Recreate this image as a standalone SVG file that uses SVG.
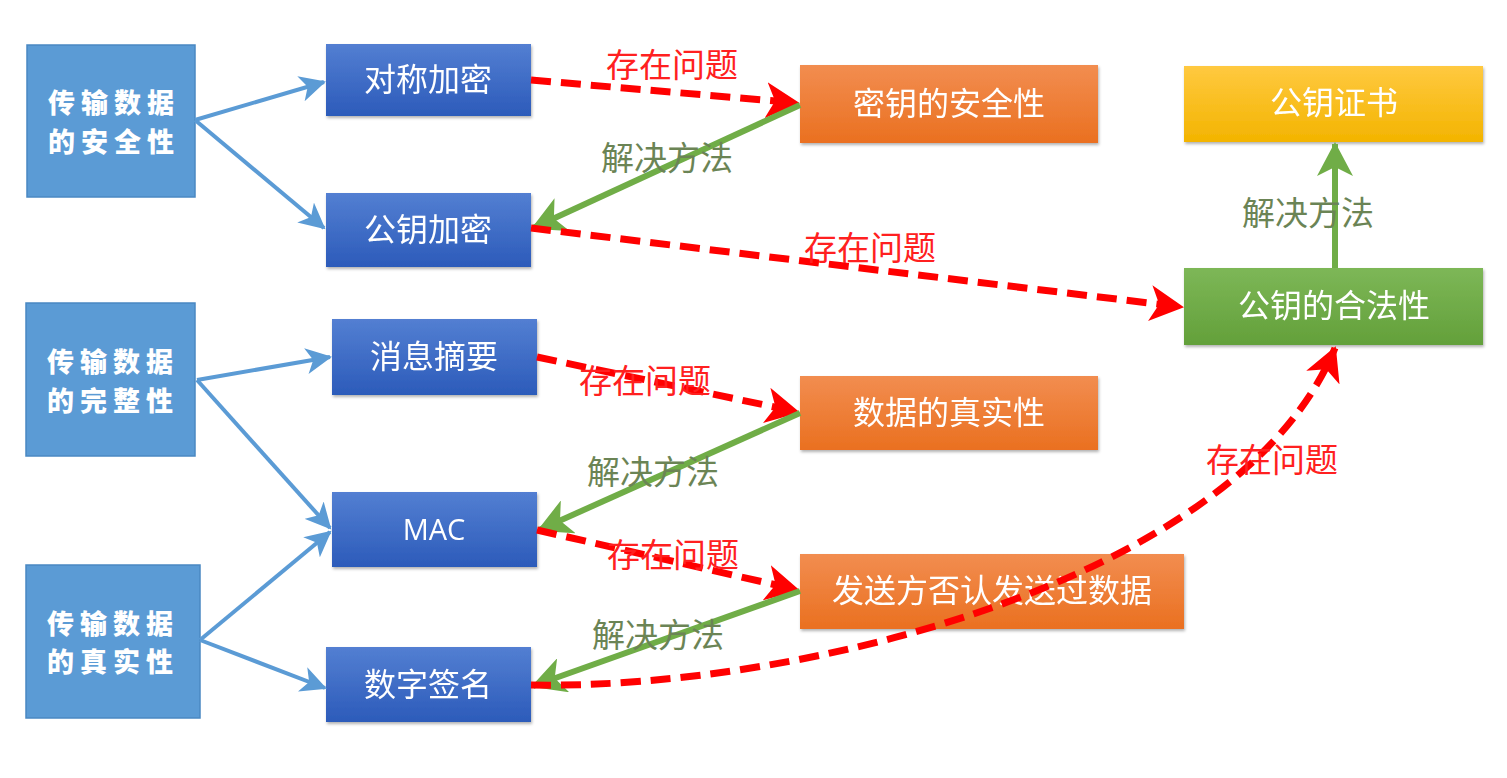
<svg xmlns="http://www.w3.org/2000/svg" width="1507" height="778" viewBox="0 0 1507 778">
<defs>
<style>
.lbox{fill:#5B9BD5;stroke:#4A88C2;stroke-width:1.5}
.ltxt{font-family:"Noto Sans CJK SC","Noto Sans",sans-serif;font-weight:900;font-size:27px;fill:#fff;letter-spacing:6px;text-anchor:middle}
.ntxt{font-family:"Noto Sans CJK SC","Noto Sans",sans-serif;font-size:32px;fill:#fff;text-anchor:middle}
.mtxt{font-family:"Open Sans","Liberation Sans",sans-serif;font-size:29px;fill:#fff;text-anchor:middle}
.blue{stroke:#5B9BD5;stroke-width:4;fill:none;marker-end:url(#ab)}
.red{stroke:#FF0000;stroke-width:7;fill:none;stroke-dasharray:20 10;marker-end:url(#ar)}
.grn{stroke:#70AD47;stroke-width:6;fill:none;marker-end:url(#ag)}
.rl{font-family:"Noto Sans CJK SC",sans-serif;font-size:33px;fill:#FF2020;text-anchor:middle}
.gl{font-family:"Noto Sans CJK SC",sans-serif;font-size:33px;fill:#6B8455;text-anchor:middle}
</style>
<linearGradient id="gb" x1="0" y1="0" x2="0" y2="1"><stop offset="0" stop-color="#537FD2"/><stop offset="1" stop-color="#2C5BBA"/></linearGradient>
<linearGradient id="go" x1="0" y1="0" x2="0" y2="1"><stop offset="0" stop-color="#F28D50"/><stop offset="1" stop-color="#EA7020"/></linearGradient>
<linearGradient id="gy" x1="0" y1="0" x2="0" y2="1"><stop offset="0" stop-color="#FFC940"/><stop offset="1" stop-color="#F3B400"/></linearGradient>
<linearGradient id="gg" x1="0" y1="0" x2="0" y2="1"><stop offset="0" stop-color="#7DB757"/><stop offset="1" stop-color="#63A03A"/></linearGradient>
<filter id="sh" x="-5%" y="-10%" width="110%" height="125%"><feDropShadow dx="1" dy="2" stdDeviation="1.5" flood-color="#000" flood-opacity="0.3"/></filter>
<marker id="ab" markerUnits="userSpaceOnUse" markerWidth="28" markerHeight="26" refX="24" refY="13" orient="auto"><path d="M0,0 L26,13 L0,26 L7,13 z" fill="#5B9BD5"/></marker>
<marker id="ar" markerUnits="userSpaceOnUse" markerWidth="36" markerHeight="36" refX="32" refY="18" orient="auto"><path d="M0,0 L34,18 L0,36 L9,18 z" fill="#FF0000"/></marker>
<marker id="ag" markerUnits="userSpaceOnUse" markerWidth="36" markerHeight="36" refX="32" refY="18" orient="auto"><path d="M0,0 L34,18 L0,36 L9,18 z" fill="#70AD47"/></marker>
</defs>
<rect width="1507" height="778" fill="#fff"/>

<g id="n-security">
<rect class="lbox" x="27" y="45" width="168" height="152"/>
<text class="ltxt" x="114" y="113">传输数据</text>
<text class="ltxt" x="114" y="152">的安全性</text>
</g>
<g id="n-integrity">
<rect class="lbox" x="26" y="303" width="169" height="153"/>
<text class="ltxt" x="113" y="372">传输数据</text>
<text class="ltxt" x="113" y="411">的完整性</text>
</g>
<g id="n-authenticity">
<rect class="lbox" x="26" y="565" width="174" height="153"/>
<text class="ltxt" x="113" y="634">传输数据</text>
<text class="ltxt" x="113" y="672">的真实性</text>
</g>

<g id="n-sym" filter="url(#sh)">
<rect x="326" y="44" width="205" height="72" fill="url(#gb)"/>
<text class="ntxt" x="428" y="91">对称加密</text>
</g>
<g id="n-pub" filter="url(#sh)">
<rect x="326" y="193" width="205" height="74" fill="url(#gb)"/>
<text class="ntxt" x="428" y="241">公钥加密</text>
</g>
<g id="n-digest" filter="url(#sh)">
<rect x="332" y="319" width="205" height="76" fill="url(#gb)"/>
<text class="ntxt" x="434" y="368">消息摘要</text>
</g>
<g id="n-mac" filter="url(#sh)">
<rect x="332" y="492" width="205" height="75" fill="url(#gb)"/>
<text class="mtxt" x="434" y="540">MAC</text>
</g>
<g id="n-sign" filter="url(#sh)">
<rect x="326" y="647" width="205" height="75" fill="url(#gb)"/>
<text class="ntxt" x="428" y="696">数字签名</text>
</g>

<g id="n-keysec" filter="url(#sh)">
<rect x="800" y="65" width="298" height="78" fill="url(#go)"/>
<text class="ntxt" x="949" y="115">密钥的安全性</text>
</g>
<g id="n-datareal" filter="url(#sh)">
<rect x="800" y="376" width="298" height="74" fill="url(#go)"/>
<text class="ntxt" x="949" y="424">数据的真实性</text>
</g>
<g id="n-deny" filter="url(#sh)">
<rect x="800" y="554" width="384" height="75" fill="url(#go)"/>
<text class="ntxt" x="992" y="602">发送方否认发送过数据</text>
</g>
<g id="n-cert" filter="url(#sh)">
<rect x="1184" y="66" width="299" height="76" fill="url(#gy)"/>
<text class="ntxt" x="1334" y="114">公钥证书</text>
</g>
<g id="n-legal" filter="url(#sh)">
<rect x="1184" y="268" width="299" height="77" fill="url(#gg)"/>
<text class="ntxt" x="1334" y="317">公钥的合法性</text>
</g>

<g id="connectors">
<path class="blue" d="M195,120 L324,82"/>
<path class="blue" d="M195,120 L324,228"/>
<path class="blue" d="M197,380 L330,357"/>
<path class="blue" d="M197,380 L330,528"/>
<path class="blue" d="M200,640 L330,532"/>
<path class="blue" d="M200,640 L325,688"/>

<path class="red" d="M531,80 L798,103"/>
<path class="grn" d="M800,105 L533,228"/>
<path class="red" d="M531,228 L1182,307"/>
<path class="grn" d="M1335,268 L1335,144"/>
<path class="red" d="M537,357 L798,412"/>
<path class="grn" d="M800,413 L539,530"/>
<path class="red" d="M537,530 L798,590"/>
<path class="grn" d="M800,591 L533,686"/>
<path class="red" d="M531,685 C800,690 1240,580 1335,348"/>

<text class="rl" x="672" y="77">存在问题</text>
<text class="gl" x="667" y="170">解决方法</text>
<text class="rl" x="870" y="260">存在问题</text>
<text class="gl" x="1308" y="225">解决方法</text>
<text class="rl" x="645" y="393">存在问题</text>
<text class="gl" x="653" y="484">解决方法</text>
<text class="rl" x="673" y="567">存在问题</text>
<text class="gl" x="658" y="647">解决方法</text>
<text class="rl" x="1272" y="472">存在问题</text>
</g>
</svg>
